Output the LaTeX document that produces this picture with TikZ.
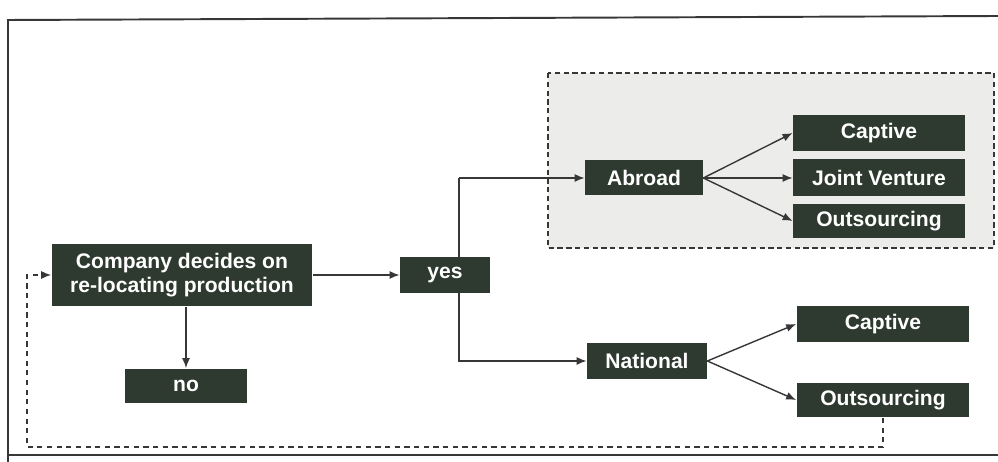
\documentclass[tikz,border=0pt]{standalone}
\usepackage{fontspec}
\setsansfont{Liberation Sans}
\usetikzlibrary{arrows.meta,backgrounds}
\definecolor{boxgreen}{RGB}{46,58,48}
\definecolor{linegray}{RGB}{55,55,55}
\definecolor{zonegray}{RGB}{236,237,235}
\begin{document}
\begin{tikzpicture}[
        x=0.02cm,y=-0.02cm,
        box/.style={fill=boxgreen,text=white,font=\sffamily\bfseries\fontsize{12}{13.5}\selectfont,inner sep=0pt,align=center},
        arr/.style={draw=linegray,line width=0.8pt,-{Latex[length=2mm,width=1.6mm]}},
        back/.style={draw=linegray,line width=0.8pt,dashed,dash pattern=on 3pt off 2.5pt,-{Latex[length=2mm,width=1.6mm]}}
    ]
    \useasboundingbox (0,0) rectangle (998,462);
    \node[box,minimum width=5.22cm,minimum height=1.26cm] (company) at (182,275) {Company decides on\\re-locating production};
    \node[box,minimum width=1.8cm,minimum height=0.72cm] (yes) at (445,275) {yes};
    \node[box,minimum width=2.44cm,minimum height=0.7cm] (no) at (186,386) {no};
    \node[box,minimum width=2.36cm,minimum height=0.7cm] (abroad) at (644,178) {Abroad};
    \node[box,minimum width=2.4cm,minimum height=0.74cm] (national) at (647,361) {National};
    \node[box,minimum width=3.44cm,minimum height=0.72cm] (acap) at (879,133) {Captive};
    \node[box,minimum width=3.44cm,minimum height=0.74cm] (ajv) at (879,178) {Joint Venture};
    \node[box,minimum width=3.44cm,minimum height=0.68cm] (aout) at (879,221) {Outsourcing};
    \node[box,minimum width=3.46cm,minimum height=0.72cm] (ncap) at (883,324) {Captive};
    \node[box,minimum width=3.46cm,minimum height=0.7cm] (nout) at (883,400) {Outsourcing};
    \coordinate (fork) at (459,178);
    \coordinate (corner) at (27,447);
    \begin{scope}[on background layer]
        \draw[linegray,line width=1.1pt] (998,16) -- (8,20) -- (8,462) (8,455) -- (998,455);
        \draw[linegray,fill=zonegray,line width=0.8pt,dash pattern=on 3pt off 2pt] (548,73) rectangle (994,248);
        \draw[arr] (company) -- (yes);
        \draw[arr] (company.south -| no) -- (no);
        \draw[arr] (fork) -- (abroad);
        \draw[arr] (fork) |- (national);
        \draw[arr] (abroad.east) -- (acap.west);
        \draw[arr] (abroad.east) -- (ajv.west);
        \draw[arr] (abroad.east) -- (aout.west);
        \draw[arr] (national.east) -- (ncap.west);
        \draw[arr] (national.east) -- (nout.west);
        \draw[back] (nout.south) |- (corner) |- (company.west);
    \end{scope}
\end{tikzpicture}
\end{document}
